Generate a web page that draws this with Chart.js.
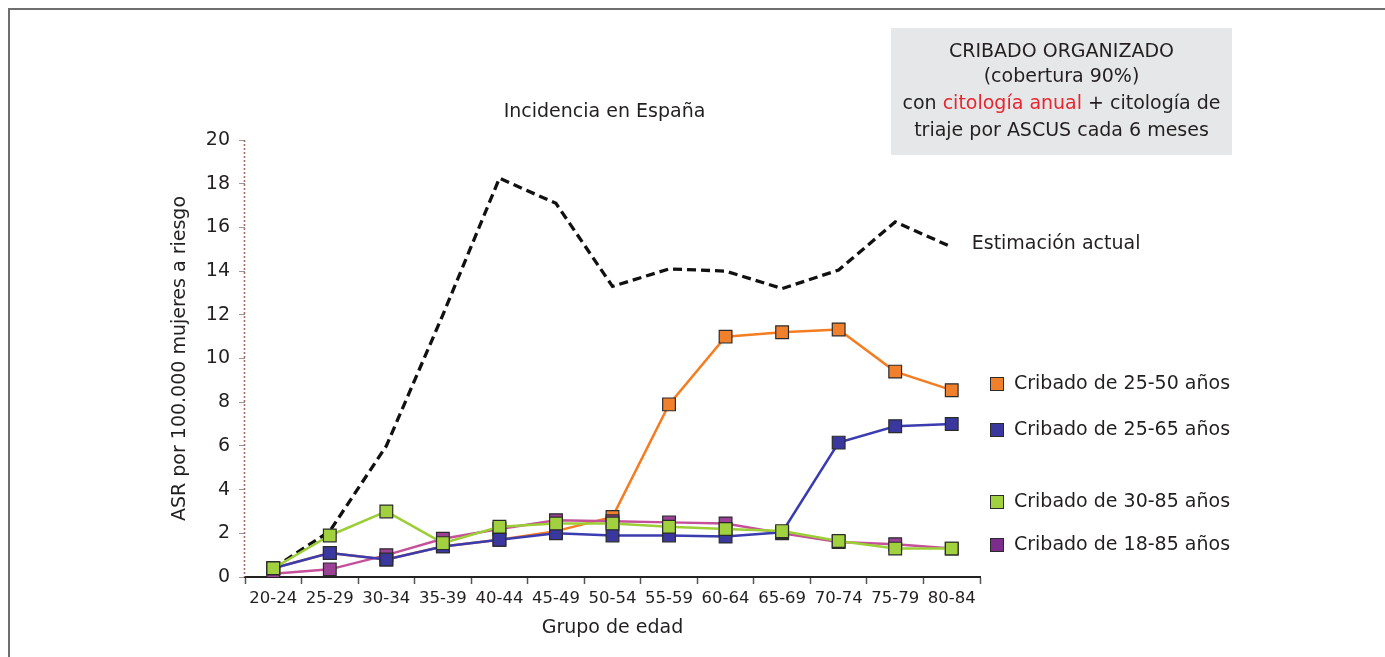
<!DOCTYPE html>
<html><head><meta charset="utf-8">
<script src="https://cdn.jsdelivr.net/npm/chart.js@4/dist/chart.umd.min.js"></script>
<style>html,body{margin:0;padding:0;background:#fff}#wrap{position:relative;width:1385px;height:657px}</style>
</head><body><div id="wrap"><canvas id="c" width="1385" height="657"></canvas></div>
<script>
const ageGroups = ['20-24','25-29','30-34','35-39','40-44','45-49','50-54','55-59','60-64','65-69','70-74','75-79','80-84'];
const estimacionActual = [0.4, 2.1, 6.0, 12.0, 18.25, 17.1, 13.3, 14.1, 14.0, 13.2, 14.05, 16.25, 15.1];
const cribado25a50 = [0.4, 1.1, 0.8, 1.4, 1.7, 2.1, 2.75, 7.9, 11.0, 11.2, 11.33, 9.4, 8.55];
const cribado25a65 = [0.4, 1.1, 0.8, 1.4, 1.7, 2.0, 1.9, 1.9, 1.85, 2.05, 6.15, 6.9, 7.0];
const cribado30a85 = [0.4, 1.9, 3.0, 1.55, 2.3, 2.45, 2.45, 2.3, 2.2, 2.1, 1.65, 1.3, 1.3];
const cribado18a85 = [0.15, 0.35, 1.0, 1.75, 2.2, 2.6, 2.55, 2.5, 2.45, 2.0, 1.6, 1.5, 1.3];
const yTicks = [0, 2, 4, 6, 8, 10, 12, 14, 16, 18, 20];
const seriesLabels = ['Cribado de 25-50 años','Cribado de 25-65 años','Cribado de 30-85 años','Cribado de 18-85 años'];
const chartTitle = 'Incidencia en España';
const estimacionLabel = 'Estimación actual';
const boxLines = ['CRIBADO ORGANIZADO', '(cobertura 90%)'];
const boxLine3 = [['con ', '#231f20'], ['citología anual', '#e8252e'], [' + citología de', '#231f20']];
const boxLine4 = 'triaje por ASCUS cada 6 meses';

const FONT = "'DejaVu Sans', sans-serif";
const TXT = '#231f20';

const colors = {
  orange: {line:'#f47d22', fill:'#f0802c'},
  blue:   {line:'#3b3caf', fill:'#3a389f'},
  green:  {line:'#9cce36', fill:'#a2d13f'},
  purple: {line:'#c4509a', fill:'#9c4296', legend:'#7c2d8c'}
};

function mk(label, data, c, legendColor){
  return {label, data, borderColor:c.line, backgroundColor:c.fill, borderWidth:2.5,
    pointStyle:'rect', pointRadius:9, pointBackgroundColor:c.fill, pointBorderColor:'#2b2b2b',
    pointBorderWidth:1.2, tension:0, legendColor: legendColor || c.fill};
}

const datasets = [
  mk(seriesLabels[2], cribado30a85, colors.green),
  mk(seriesLabels[1], cribado25a65, colors.blue),
  mk(seriesLabels[3], cribado18a85, colors.purple, colors.purple.legend),
  mk(seriesLabels[0], cribado25a50, colors.orange),
  {label: estimacionLabel, data: estimacionActual, borderColor:'#111', borderWidth:3.3, borderDash:[9,5],
   pointRadius:0, tension:0, fill:false}
];

const overlay = {
  id:'overlay',
  beforeDraw(chart){
    const ctx = chart.ctx;
    ctx.save();
    ctx.fillStyle = '#fff';
    ctx.fillRect(0,0,chart.width,chart.height);
    ctx.strokeStyle = '#6e6e6e';
    ctx.lineWidth = 2;
    ctx.beginPath();
    ctx.moveTo(9, chart.height); ctx.lineTo(9, 9); ctx.lineTo(chart.width, 9);
    ctx.stroke();
    ctx.restore();
  },
  beforeDatasetsDraw(chart){
    const {ctx, chartArea} = chart;
    ctx.save();
    ctx.strokeStyle = '#a46f62';
    ctx.lineWidth = 1.6;
    ctx.setLineDash([2, 2]);
    ctx.beginPath();
    ctx.moveTo(chartArea.left - 0.5, chartArea.top);
    ctx.lineTo(chartArea.left - 0.5, chartArea.bottom);
    ctx.stroke();
    ctx.restore();
  },
  afterDraw(chart){
    const {ctx, chartArea, scales:{x, y}} = chart;
    ctx.save();
    ctx.fillStyle = TXT;
    ctx.font = '19px ' + FONT;
    ctx.textBaseline = 'middle';
    // chart title
    ctx.textAlign = 'center';
    ctx.fillText(chartTitle, (chartArea.left + chartArea.right)/2 - 8, chartArea.top - 28);
    // grey box
    const bx = 891, by = 28, bw = 341, bh = 127;
    ctx.fillStyle = '#e6e7e8';
    ctx.fillRect(bx, by, bw, bh);
    const cx = bx + bw/2;
    ctx.fillStyle = TXT;
    ctx.fillText(boxLines[0], cx, 52);
    ctx.fillText(boxLines[1], cx, 77);
    ctx.textAlign = 'left';
    let total = 0;
    boxLine3.forEach(p => total += ctx.measureText(p[0]).width);
    let px = cx - total/2;
    boxLine3.forEach(p => { ctx.fillStyle = p[1]; ctx.fillText(p[0], px, 104); px += ctx.measureText(p[0]).width; });
    ctx.fillStyle = TXT;
    ctx.textAlign = 'center';
    ctx.fillText(boxLine4, cx, 131);
    // estimación label
    ctx.textAlign = 'left';
    const last = estimacionActual.length - 1;
    ctx.fillText(estimacionLabel, x.getPixelForValue(last) + 20, y.getPixelForValue(estimacionActual[last]) - 3);
    // legend
    const rows = [384, 430, 502, 545];
    const order = [3, 1, 0, 2];
    order.forEach((di, i) => {
      const ds = chart.data.datasets[di];
      const ry = rows[i];
      ctx.fillStyle = ds.legendColor;
      ctx.fillRect(990, ry - 7, 14, 14);
      ctx.strokeStyle = '#2b2b2b';
      ctx.lineWidth = 1;
      ctx.strokeRect(990.5, ry - 6.5, 13, 13);
      ctx.fillStyle = TXT;
      ctx.fillText(ds.label, 1014, ry);
    });
    ctx.restore();
  }
};

Chart.defaults.font.family = FONT;
Chart.defaults.color = TXT;

new Chart(document.getElementById('c'), {
  type:'line',
  data:{labels: ageGroups, datasets},
  options:{
    responsive:false, animation:false, devicePixelRatio:1,
    layout:{padding:{left:165, top:140, right:405, bottom:14}},
    plugins:{legend:{display:false}, tooltip:{enabled:false}, title:{display:false}},
    scales:{
      x:{
        offset:true,
        grid:{display:true, drawOnChartArea:false, offset:true, tickLength:7, color:'#555', tickWidth:1.5},
        border:{display:true, color:'#222', width:2},
        ticks:{font:{size:16.5}, color:TXT, padding:5, maxRotation:0, autoSkip:false},
        title:{display:true, text:'Grupo de edad', font:{size:19}, color:TXT, padding:{top:4, bottom:4}},
        afterFit(s){ s.width = s.width; s.height = 66; }
      },
      y:{
        min:0, max:20,
        afterBuildTicks(s){ s.ticks = yTicks.map(v => ({value:v})); },
        grid:{display:true, drawOnChartArea:false, tickLength:6, color:'#999'},
        border:{display:false},
        ticks:{font:{size:19}, color:TXT, padding:9},
        title:{display:true, text:'ASR por 100.000 mujeres a riesgo', font:{size:19}, color:TXT, padding:{top:4, bottom:4}},
        afterFit(s){ s.width = 80; }
      }
    }
  },
  plugins:[overlay]
});
</script></body></html>
